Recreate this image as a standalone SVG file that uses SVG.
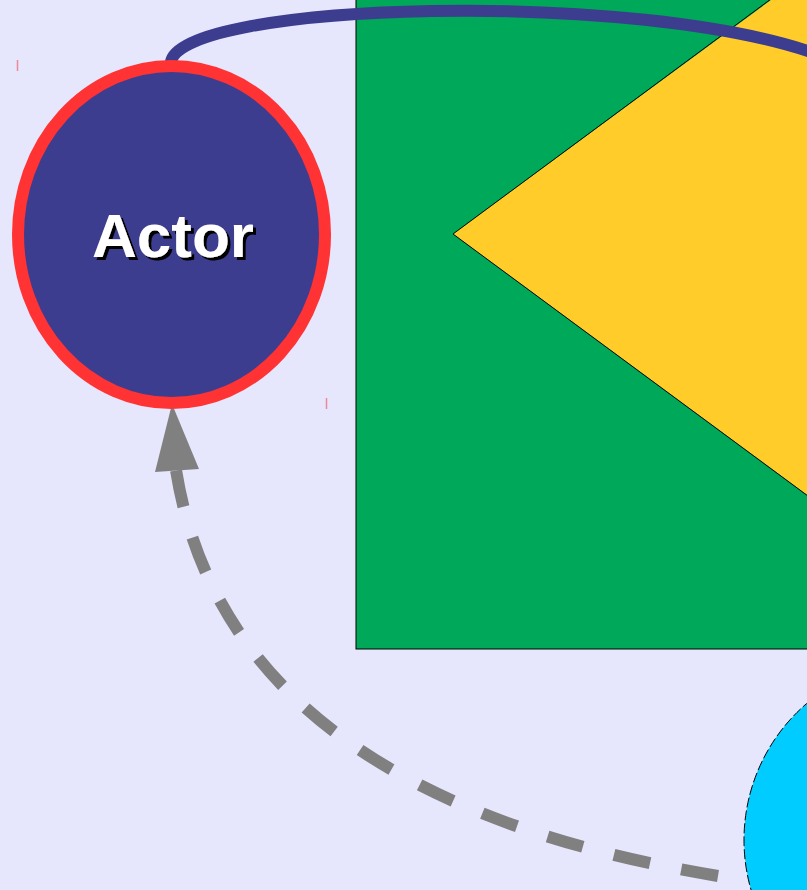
<svg xmlns="http://www.w3.org/2000/svg" width="807" height="890" viewBox="0 0 807 890">
<defs>
<style>
.tick{stroke:#f07888;stroke-width:1.5;opacity:0.85}
.lbl{font-family:"Liberation Sans",Arial,sans-serif;font-weight:bold;font-size:62px;text-anchor:middle}
</style>
<filter id="shadow" x="-10%" y="-10%" width="130%" height="130%">
<feDropShadow dx="3" dy="3" stdDeviation="0" flood-color="#000" flood-opacity="1"/>
</filter>
</defs>
<rect width="807" height="890" fill="#e6e6fc"/>
<g id="flag">
<rect x="356" y="-181" width="700" height="830" fill="#00a859" stroke="#000" stroke-width="1"/>
<path d="M453,234 L771,0 L1100,-20 L1100,500 L807,495 Z" fill="#ffcc29"/>
<path d="M771,-1 L453,234 L808,496" fill="none" stroke="#000" stroke-width="1"/>
</g>
<g id="cyan-node">
<circle cx="924" cy="840" r="180" fill="#00ccff" stroke="#000" stroke-width="1" stroke-dasharray="10,3"/>
</g>
<g id="connectors">
<path d="M171,62 C180,2 640,-12 822,56" fill="none" stroke="#3d3d90" stroke-width="12"/>
<path d="M718,876 Q228,795 176,470" fill="none" stroke="#808080" stroke-width="12" stroke-dasharray="37,32"/>
<path d="M172,404 L199,469 L155,472 Z" fill="#808080"/>
</g>
<g id="actor">
<ellipse cx="171.5" cy="234.5" rx="153.5" ry="168.5" fill="#3d3d90" stroke="#ff3333" stroke-width="12"/>
<text class="lbl" x="173" y="257" fill="#fff" filter="url(#shadow)">Actor</text>
</g>
<g id="ticks">
<line class="tick" x1="17.5" y1="60" x2="17.5" y2="71"/>
<line class="tick" x1="326.5" y1="398" x2="326.5" y2="409"/>
</g>
</svg>
